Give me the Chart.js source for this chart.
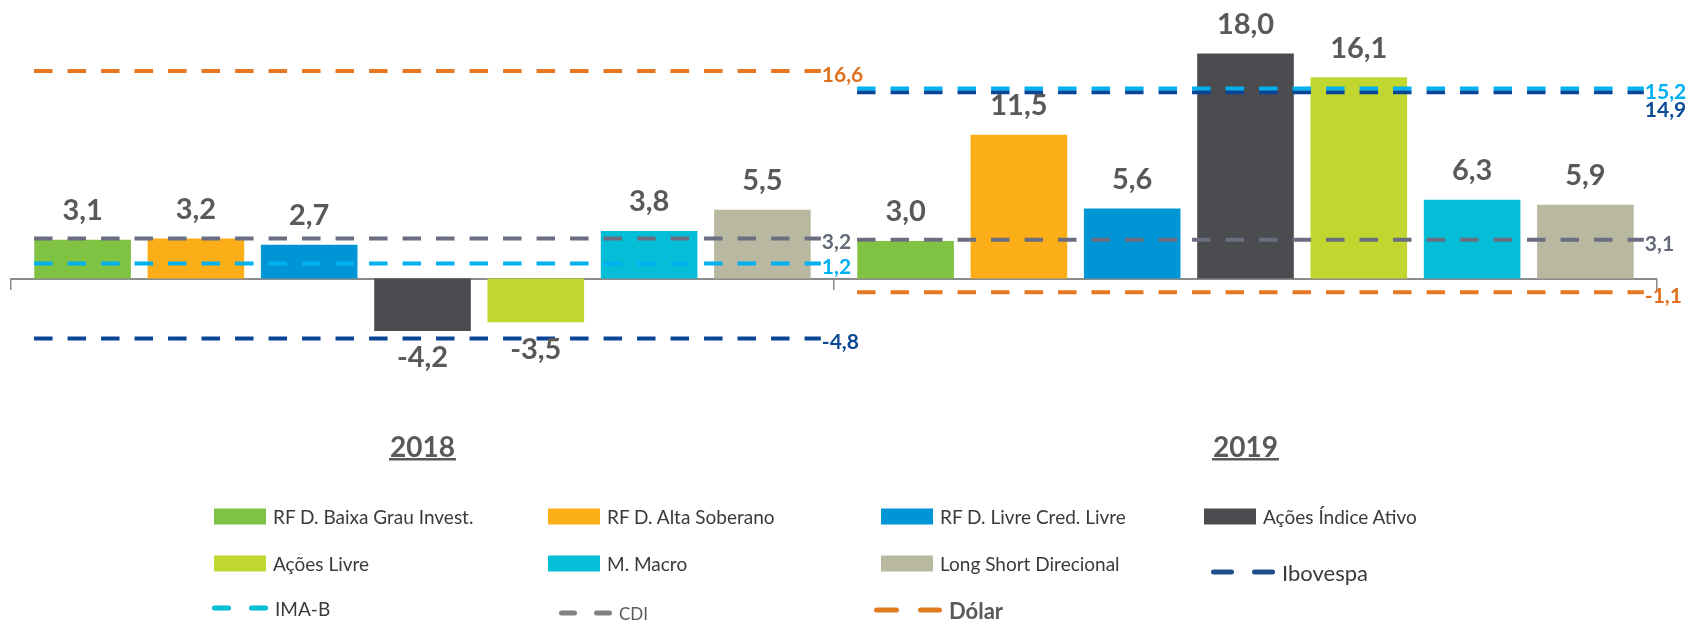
<!DOCTYPE html>
<html>
<head>
<meta charset="utf-8">
<script src="https://cdn.jsdelivr.net/npm/chart.js@4.4.1/dist/chart.umd.min.js"></script>
<style>
html, body { margin: 0; padding: 0; background: #fff; overflow: hidden; }
#wrap { position: relative; width: 1692px; height: 620px; }
#c { position: absolute; left: 0; top: 0; }
.lg { position: absolute; display: flex; align-items: center; font-family: Lato, "Liberation Sans", sans-serif; color: #3a3a3a; white-space: nowrap; transform: translateY(-50%); line-height: 1; }
.sw { display: inline-block; width: 52px; height: 16px; }
.dash { display: inline-block; height: 5px; border-radius: 3px; }
</style>
</head>
<body>
<div id="wrap">
  <canvas id="c" width="1692" height="620"></canvas>
  <div id="legend"></div>
</div>
<script>
// ---------- data ----------
const categories = ['2018', '2019'];
const fundNames = ['RF D. Baixa Grau Invest.', 'RF D. Alta Soberano', 'RF D. Livre Cred. Livre', 'Ações Índice Ativo', 'Ações Livre', 'M. Macro', 'Long Short Direcional'];
const fund2018 = [3.1, 3.2, 2.7, -4.2, -3.5, 3.8, 5.5];
const fund2019 = [3.0, 11.5, 5.6, 18.0, 16.1, 6.3, 5.9];
const benchNames = ['Ibovespa', 'IMA-B', 'CDI', 'Dólar'];
const bench2018 = [-4.8, 1.2, 3.2, 16.6];
const bench2019 = [14.9, 15.2, 3.1, -1.1];

// ---------- styles ----------
const fundColors = ['#80c342', '#fbae17', '#0096d6', '#4b4c4f', '#c1d72f', '#03bed6', '#b8b9a0'];
const benchLineColors = ['#0a4496', '#00b0f0', '#6b6e80', '#e87722'];
const benchLabelColors = ['#0b4a93', '#00b0f0', '#656a7a', '#e07020'];
const benchLegendColors = ['#1f4e8c', '#00bcd4', '#808080', '#e07a1f'];
const FONT = 'Lato, "Liberation Sans", sans-serif';
const fmt = v => v.toFixed(1).replace('.', ',');
const fundByYear = [fund2018, fund2019];
const benchByYear = [bench2018, bench2019];

const benchPlugin = {
  id: 'bench',
  afterDatasetsDraw(chart) {
    const { ctx, scales: { x, y } } = chart;
    const catW = x.width / categories.length;
    ctx.save();
    categories.forEach((cat, i) => {
      const cx = x.getPixelForValue(i);
      const x0 = cx - catW * 0.472, x1 = cx + catW * 0.484;
      const labels = [];
      benchNames.forEach((name, j) => {
        const v = benchByYear[i][j];
        const py = y.getPixelForValue(v);
        ctx.beginPath();
        ctx.setLineDash([18.5, 15]);
        ctx.lineWidth = 4;
        ctx.lineCap = 'butt';
        ctx.strokeStyle = benchLineColors[j];
        ctx.moveTo(x0, py);
        ctx.lineTo(x1, py);
        ctx.stroke();
        labels.push({ j, v, y: py + 4 });
      });
      labels.sort((a, b) => a.y - b.y);
      for (let k = 1; k < labels.length; k++) {
        if (labels[k].y < labels[k - 1].y + 18) labels[k].y = labels[k - 1].y + 18;
      }
      ctx.setLineDash([]);
      ctx.font = 'bold 21px ' + FONT;
      ctx.textAlign = 'left';
      ctx.textBaseline = 'middle';
      labels.forEach(l => {
        ctx.fillStyle = benchLabelColors[l.j];
        ctx.fillText(fmt(l.v), x1 + 1, l.y);
      });
    });
    ctx.restore();
  }
};

const barLabelPlugin = {
  id: 'barLabels',
  afterDatasetsDraw(chart) {
    const { ctx } = chart;
    ctx.save();
    ctx.font = 'bold 29px ' + FONT;
    ctx.fillStyle = '#595959';
    ctx.textAlign = 'center';
    ctx.textBaseline = 'middle';
    chart.data.datasets.forEach((ds, di) => {
      const meta = chart.getDatasetMeta(di);
      meta.data.forEach((bar, i) => {
        const v = ds.data[i];
        const ty = v >= 0 ? bar.y - 29 : bar.y + 27;
        ctx.fillText(fmt(v), bar.x, ty);
      });
    });
    ctx.restore();
  }
};

const catLabelPlugin = {
  id: 'catLabels',
  afterDraw(chart) {
    const { ctx, chartArea, scales: { x } } = chart;
    ctx.save();
    ctx.font = 'bold 28px ' + FONT;
    ctx.fillStyle = '#595959';
    ctx.textAlign = 'center';
    ctx.textBaseline = 'alphabetic';
    const base = chartArea.bottom + 53;
    categories.forEach((c, i) => {
      const cx = x.getPixelForValue(i);
      ctx.fillText(c, cx, base);
      const w = ctx.measureText(c).width;
      ctx.fillRect(cx - w / 2 - 1, base + 1.5, w + 2, 2.5);
    });
    ctx.restore();
  }
};

const chart = new Chart(document.getElementById('c'), {
  type: 'bar',
  data: {
    labels: categories,
    datasets: fundNames.map((name, k) => ({
      label: name,
      data: fundByYear.map(arr => arr[k]),
      backgroundColor: fundColors[k],
      borderWidth: 0,
      categoryPercentage: 0.9637,
      barPercentage: 0.8526
    }))
  },
  options: {
    responsive: false,
    animation: false,
    events: [],
    devicePixelRatio: 1,
    layout: { padding: { left: 11, right: 35, top: 28.5, bottom: 216.5 } },
    plugins: { legend: { display: false }, tooltip: { enabled: false }, title: { display: false } },
    scales: {
      x: {
        type: 'category',
        position: { y: 0 },
        grid: { display: true, drawOnChartArea: false, offset: true, drawTicks: true, tickLength: 10, color: '#8c8c8c', lineWidth: 1.5 },
        border: { display: true, color: '#8c8c8c', width: 2 },
        ticks: { display: false }
      },
      y: { display: false, min: -10, max: 20 }
    }
  },
  plugins: [benchPlugin, barLabelPlugin, catLabelPlugin]
});

// ---------- legend (HTML) ----------
const legendSlots = [
  { kind: 'bar', idx: 0, x: 214, y: 516 },
  { kind: 'bar', idx: 1, x: 548, y: 516 },
  { kind: 'bar', idx: 2, x: 881, y: 516 },
  { kind: 'bar', idx: 3, x: 1204, y: 516 },
  { kind: 'bar', idx: 4, x: 214, y: 563 },
  { kind: 'bar', idx: 5, x: 548, y: 563 },
  { kind: 'bar', idx: 6, x: 881, y: 563 },
  { kind: 'line', idx: 0, x: 1211, y: 572, dash: 23, gap: 18, font: '22px', color: '#3a3a3a' },
  { kind: 'line', idx: 1, x: 212, y: 607.5, dash: 19, gap: 18, font: '19px', color: '#3a3a3a' },
  { kind: 'line', idx: 2, x: 559, y: 613, dash: 18, gap: 17, font: '17px', color: '#595959' },
  { kind: 'line', idx: 3, x: 874, y: 610, dash: 24.5, gap: 19, font: 'bold 22px', color: '#595959' }
];
const legendEl = document.getElementById('legend');
legendSlots.forEach(s => {
  const item = document.createElement('div');
  item.className = 'lg';
  item.style.left = s.x + 'px';
  item.style.top = s.y + 'px';
  if (s.kind === 'bar') {
    const sw = document.createElement('span');
    sw.className = 'sw';
    sw.style.background = chart.data.datasets[s.idx].backgroundColor;
    sw.style.marginRight = '7px';
    item.appendChild(sw);
    const t = document.createElement('span');
    t.textContent = chart.data.datasets[s.idx].label;
    t.style.font = '19px ' + FONT;
    item.appendChild(t);
  } else {
    for (let d = 0; d < 2; d++) {
      const ds = document.createElement('span');
      ds.className = 'dash';
      ds.style.width = s.dash + 'px';
      ds.style.background = benchLegendColors[s.idx];
      ds.style.marginRight = (d === 0 ? s.gap : 7) + 'px';
      item.appendChild(ds);
    }
    const t = document.createElement('span');
    t.textContent = benchNames[s.idx];
    t.style.font = s.font + ' ' + FONT;
    t.style.color = s.color;
    item.appendChild(t);
  }
  legendEl.appendChild(item);
});
</script>
</body>
</html>
